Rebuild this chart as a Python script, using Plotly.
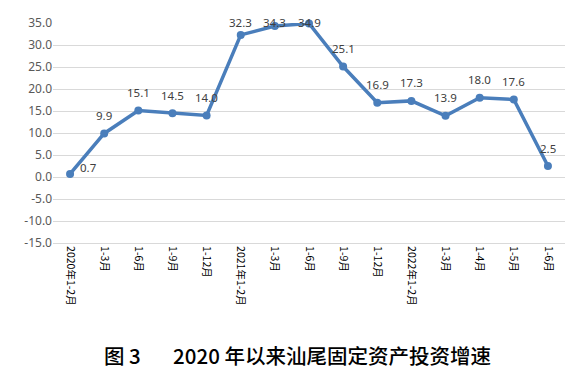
import plotly.graph_objects as go

categories = ["2020年1-2月", "1-3月", "1-6月", "1-9月", "1-12月",
              "2021年1-2月", "1-3月", "1-6月", "1-9月", "1-12月",
              "2022年1-2月", "1-3月", "1-4月", "1-5月", "1-6月"]
values = [0.7, 9.9, 15.1, 14.5, 14.0, 32.3, 34.3, 34.9, 25.1, 16.9, 17.3, 13.9, 18.0, 17.6, 2.5]
y_ticks = [35, 30, 25, 20, 15, 10, 5, 0, -5, -10, -15]

x_idx = list(range(len(categories)))

fig = go.Figure()
fig.add_trace(go.Scatter(
    x=x_idx, y=values, mode="lines+markers",
    line=dict(color="#4a7ebb", width=3.5),
    marker=dict(color="#4a7ebb", size=8),
    cliponaxis=False,
))

annotations = []
for i, v in enumerate(values):
    if i == 0:
        ly, xs, ys = v, 18, 6
    else:
        # labels sit above points, kept inside the top of the chart
        ly, xs, ys = min(v, 31.1), 0, 18
    annotations.append(dict(
        x=i, y=ly, xref="x", yref="y", text=f"{v:.1f}", showarrow=False,
        xshift=xs, yshift=ys, xanchor="center", yanchor="middle",
        font=dict(family="Noto Sans, sans-serif", size=11.5, color="#404040"),
    ))

annotations.append(dict(
    text="图 3" + "&nbsp;" * 7 + "2020 年以来汕尾固定资产投资增速",
    xref="paper", yref="paper", x=0.478, y=-0.51,
    xanchor="center", yanchor="middle", showarrow=False,
    font=dict(family="Noto Sans CJK SC", size=20.5, color="#000000", weight=500),
))

fig.update_layout(
    width=575, height=376,
    margin=dict(l=45, r=18, t=15, b=141),
    paper_bgcolor="white", plot_bgcolor="white",
    showlegend=False,
    xaxis=dict(
        tickmode="array", tickvals=x_idx, ticktext=categories,
        range=[-0.5, len(categories) - 0.5],
        tickangle=90, showgrid=False, zeroline=False, automargin=False,
        showline=True, linecolor="#d9d9d9", ticks="",
        tickfont=dict(family="Noto Sans CJK SC", size=10.5, color="#000000"),
    ),
    yaxis=dict(
        range=[-15, 35], tickvals=y_ticks, automargin=False,
        ticktext=[f"{v:.1f}" for v in y_ticks],
        showgrid=True, gridcolor="#d9d9d9", gridwidth=1,
        zeroline=False, showline=False, ticks="",
        tickfont=dict(family="Noto Sans, sans-serif", size=12, color="#595959"),
    ),
    annotations=annotations,
)

fig.write_html("out.html")
